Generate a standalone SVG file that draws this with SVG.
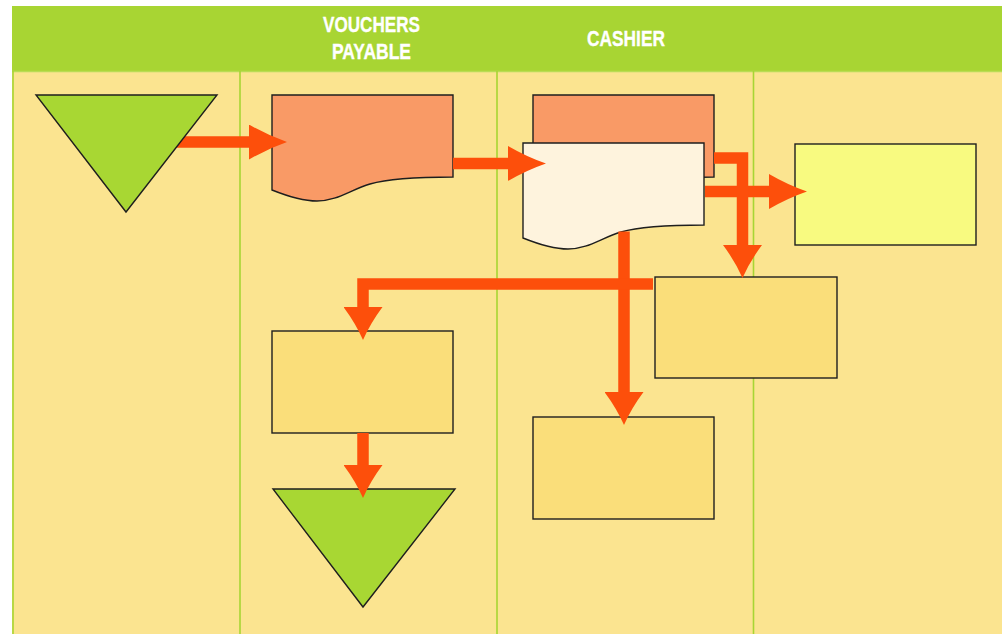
<svg xmlns="http://www.w3.org/2000/svg" width="1002" height="634" viewBox="0 0 1002 634">
  <style>
    .lane-title { font-family: "Liberation Sans Narrow", "Liberation Sans", Arial, sans-serif; font-weight: bold; font-size: 22.5px; fill: #ffffff; stroke: #ffffff; stroke-width: 0.35; text-anchor: middle; }
    .lane-line { stroke: #A8D533; stroke-width: 1.6; fill: none; }
    .node { stroke: #1e1e1e; stroke-width: 1.4; stroke-linejoin: miter; }
    .terminal { fill: #A8D733; }
    .doc { fill: #F99A66; }
    .doc-light { fill: #FEF3DD; }
    .step { fill: #FADE7A; }
    .step-hl { fill: #F8FA80; }
    .flow { fill: none; stroke: #FD4F0B; stroke-width: 11.5; stroke-linejoin: miter; stroke-linecap: butt; }
    .flow-h { marker-end: url(#headH); }
    .flow-v { marker-end: url(#headV); }
  </style>
  <defs>
    <!-- arrowheads with slightly concave flanks; base sits at the end of the shaft -->
    <marker id="headH" viewBox="0 -17.5 38 35" refX="1" refY="0" markerWidth="38" markerHeight="35" markerUnits="userSpaceOnUse" orient="auto">
      <path d="M0,-17.5 Q19,-6.5 38,0 Q19,6.5 0,17.5 Z" fill="#FD4F0B"/>
    </marker>
    <marker id="headV" viewBox="0 -19.5 33 39" refX="1" refY="0" markerWidth="33" markerHeight="39" markerUnits="userSpaceOnUse" orient="auto">
      <path d="M0,-19.5 Q16,-7.5 33,0 Q16,7.5 0,19.5 Z" fill="#FD4F0B"/>
    </marker>
    <!-- document outline: flat top, wavy bottom -->
    <path id="docShape" d="M0,0 H181 V82 C140,82 115,84 98,89 C78,95 65,106 45,106 C30,106 15,101 0,95 Z"/>
  </defs>

  <!-- pool background -->
  <rect x="0" y="0" width="1002" height="634" fill="#ffffff"/>
  <rect x="12" y="71" width="990" height="563" fill="#FBE490"/>
  <rect x="12" y="6" width="990" height="65" fill="#A8D533"/>
  <line x1="12" y1="71.5" x2="1002" y2="71.5" stroke="#B9DC55" stroke-width="1.5"/>

  <!-- lane separators -->
  <g id="lanes">
    <line class="lane-line" x1="13" y1="71" x2="13" y2="634"/>
    <line class="lane-line" x1="240" y1="71" x2="240" y2="634"/>
    <line class="lane-line" x1="497" y1="71" x2="497" y2="634"/>
    <line class="lane-line" x1="753.5" y1="71" x2="753.5" y2="634"/>
  </g>

  <!-- lane headings -->
  <g id="lane-titles">
    <text class="lane-title" x="371.5" y="32" textLength="97" lengthAdjust="spacingAndGlyphs">VOUCHERS</text>
    <text class="lane-title" x="371.5" y="59" textLength="79" lengthAdjust="spacingAndGlyphs">PAYABLE</text>
    <text class="lane-title" x="626" y="46" textLength="78" lengthAdjust="spacingAndGlyphs">CASHIER</text>
  </g>

  <!-- nodes -->
  <g id="voucher-doc">
    <use href="#docShape" class="node doc" transform="translate(272,95)"/>
  </g>
  <g id="voucher-copy-back">
    <use href="#docShape" class="node doc" transform="translate(533,95)"/>
  </g>
  <g id="voucher-copy-front">
    <use href="#docShape" class="node doc-light" transform="translate(523,143)"/>
  </g>
  <g id="step-right">
    <rect class="node step-hl" x="795" y="144" width="181" height="101"/>
  </g>
  <g id="step-mid-right">
    <rect class="node step" x="655" y="277" width="182" height="101"/>
  </g>
  <g id="step-left">
    <rect class="node step" x="272" y="331" width="181" height="102"/>
  </g>
  <g id="step-bottom">
    <rect class="node step" x="533" y="417" width="181" height="102"/>
  </g>
  <g id="end-terminal">
    <polygon class="node terminal" points="273,489 455,489 363,607"/>
  </g>

  <!-- connectors -->
  <g id="connectors">
    <path class="flow flow-h" d="M170,142 H250"/>
    <path class="flow flow-h" d="M453,163.5 H509"/>
    <path class="flow flow-h" d="M705,191.5 H770"/>
    <path class="flow flow-v" d="M714,158 H742.5 V246"/>
    <path class="flow flow-v" d="M624,231.5 V393"/>
    <path class="flow flow-v" d="M653,284 H363 V308"/>
    <path class="flow flow-v" d="M363,433 V466"/>
  </g>

  <!-- start terminal drawn over the first shaft -->
  <g id="start-terminal">
    <polygon class="node terminal" points="36,95 217,95 126,212"/>
  </g>
</svg>
